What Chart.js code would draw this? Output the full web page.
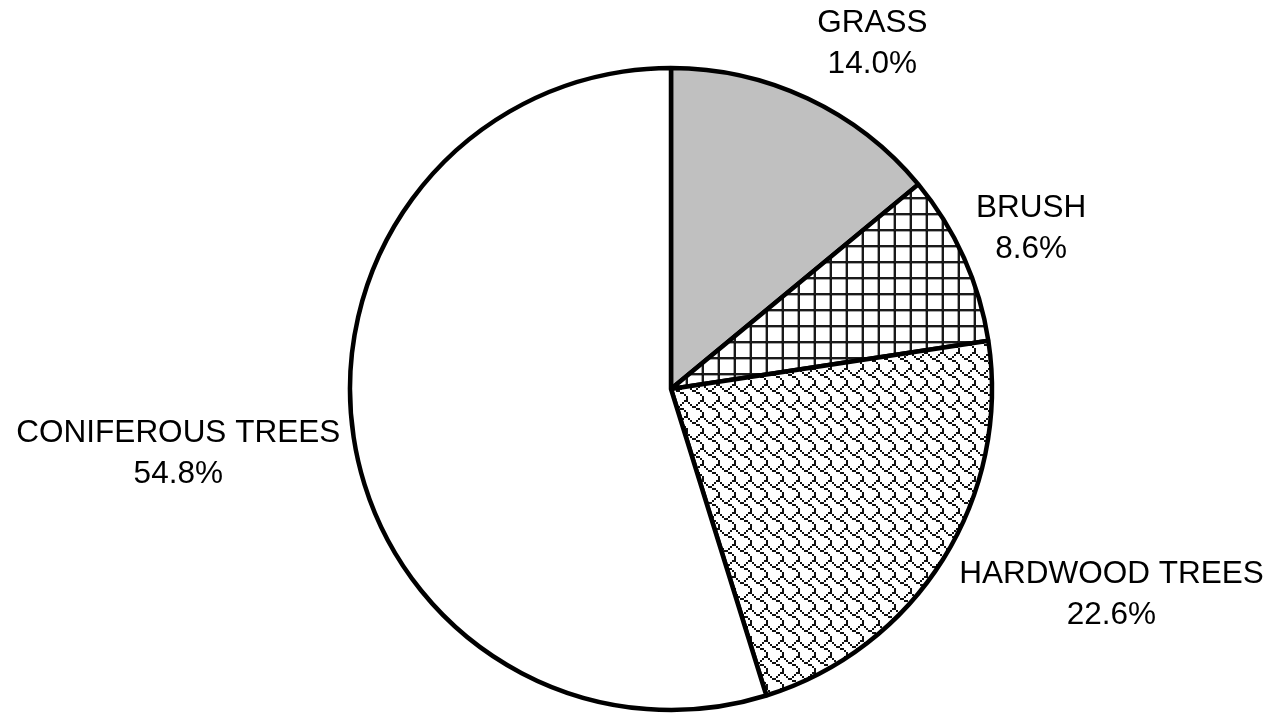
<!DOCTYPE html>
<html>
<head>
<meta charset="utf-8">
<script src="https://cdn.jsdelivr.net/npm/chart.js@4.4.1/dist/chart.umd.min.js"></script>
<style>
  html, body { margin: 0; padding: 0; background: #ffffff; }
  #wrap { width: 1276px; height: 713px; }
</style>
</head>
<body>
<div id="wrap"><canvas id="chart" width="1276" height="713"></canvas></div>
<script>
// Land cover shares (percent), clockwise from 12 o'clock
const categories = ['GRASS', 'BRUSH', 'HARDWOOD TREES', 'CONIFEROUS TREES'];
const shares = [14.0, 8.6, 22.6, 54.8];

// Label placement around the pie, in units of the outer radius (x of text centre, y of first baseline)
const labelPlacement = [
  [0.627, -1.112],
  [1.122, -0.535],
  [1.372, 0.603],
  [-1.535, 0.165]
];

function makeTile(size, paint) {
  const c = document.createElement('canvas');
  c.width = size; c.height = size;
  const g = c.getContext('2d');
  g.fillStyle = '#ffffff';
  g.fillRect(0, 0, size, size);
  paint(g);
  return g.createPattern(c, 'repeat');
}

// Square grid hatch
const gridFill = makeTile(16, g => {
  g.fillStyle = '#1a1a1a';
  g.fillRect(14, 0, 2, 16);
  g.fillRect(0, 5, 16, 2);
  g.fillStyle = 'rgba(0,0,0,0.35)';
  g.fillRect(13, 0, 1, 16);
  g.fillRect(0, 7, 16, 1);
});

// Shingle hatch (8x8 bitmap drawn at 2x)
const shingleBits = [0x03, 0x84, 0x48, 0x30, 0x0c, 0x02, 0x01, 0x01];
const shingleFill = makeTile(16, g => {
  g.fillStyle = '#111111';
  shingleBits.forEach((row, y) => {
    for (let x = 0; x < 8; x++) {
      if (row & (0x80 >> x)) g.fillRect(x * 2, y * 2, 2, 2);
    }
  });
});

const fills = ['#c0c0c0', gridFill, shingleFill, '#ffffff'];

const sliceLabels = {
  id: 'sliceLabels',
  afterDatasetsDraw(chart) {
    const ctx = chart.ctx;
    const arcs = chart.getDatasetMeta(0).data;
    const ds = chart.data.datasets[0];
    ctx.save();
    ctx.fillStyle = '#000000';
    ctx.font = '31.5px "Liberation Sans", Arial, sans-serif';
    ctx.textAlign = 'center';
    ctx.textBaseline = 'alphabetic';
    arcs.forEach((arc, i) => {
      const r = arc.outerRadius;
      const cx = arc.x + labelPlacement[i][0] * r;
      const by = arc.y + labelPlacement[i][1] * r;
      const lines = [chart.data.labels[i], ds.data[i].toFixed(1) + '%'];
      lines.forEach((t, k) => ctx.fillText(t, cx, by + k * 41));
    });
    ctx.restore();
  }
};

new Chart(document.getElementById('chart'), {
  type: 'pie',
  data: {
    labels: categories,
    datasets: [{
      data: shares,
      backgroundColor: fills,
      borderColor: '#000000',
      borderWidth: 4.5,
      radius: 321
    }]
  },
  options: {
    responsive: false,
    animation: false,
    layout: { padding: { top: 65, left: 66, right: 0, bottom: 0 } },
    plugins: {
      legend: { display: false },
      tooltip: { enabled: false },
      title: { display: false }
    }
  },
  plugins: [sliceLabels]
});
</script>
</body>
</html>
